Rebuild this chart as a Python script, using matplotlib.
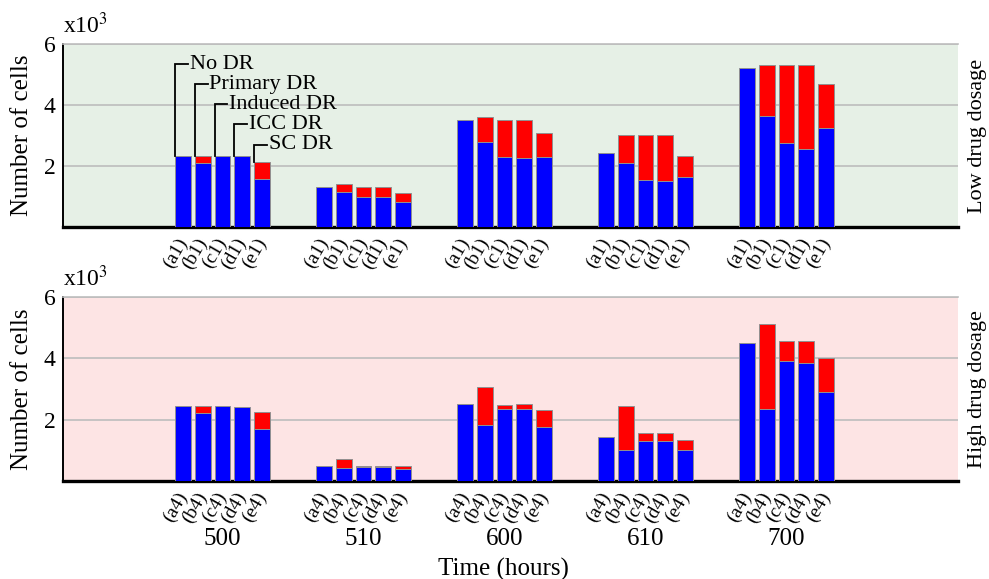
import numpy as np
import matplotlib
matplotlib.use("Agg")
import matplotlib.pyplot as plt
from matplotlib.transforms import blended_transform_factory

plt.rcParams['font.family'] = ['Liberation Serif', 'DejaVu Serif']
plt.rcParams['mathtext.fontset'] = 'stix'

# Time points (hours) and the five resistance models
times = ["500", "510", "600", "610", "700"]
models = ["No DR", "Primary DR", "Induced DR", "ICC DR", "SC DR"]
letters = ["a", "b", "c", "d", "e"]

# Cell counts in thousands: sensitive (blue) and total (blue + red resistant)
low_sensitive = [
    [2.34, 2.09, 2.34, 2.34, 1.58],
    [1.30, 1.14, 0.97, 0.97, 0.82],
    [3.52, 2.79, 2.28, 2.25, 2.31],
    [2.42, 2.09, 1.54, 1.50, 1.63],
    [5.20, 3.64, 2.74, 2.56, 3.25],
]
low_total = [
    [2.34, 2.32, 2.34, 2.34, 2.12],
    [1.30, 1.41, 1.30, 1.30, 1.11],
    [3.52, 3.62, 3.51, 3.52, 3.07],
    [2.42, 3.02, 3.02, 3.03, 2.33],
    [5.20, 5.32, 5.30, 5.30, 4.68],
]
high_sensitive = [
    [2.43, 2.21, 2.43, 2.42, 1.71],
    [0.50, 0.43, 0.46, 0.46, 0.38],
    [2.51, 1.83, 2.35, 2.35, 1.76],
    [1.42, 1.02, 1.31, 1.31, 1.00],
    [4.51, 2.35, 3.92, 3.84, 2.91],
]
high_total = [
    [2.43, 2.45, 2.43, 2.42, 2.25],
    [0.50, 0.72, 0.50, 0.50, 0.48],
    [2.51, 3.07, 2.49, 2.51, 2.31],
    [1.42, 2.44, 1.55, 1.57, 1.33],
    [4.51, 5.11, 4.56, 4.58, 4.00],
]

# Label heights for the model call-outs in the first group
callout_y = [5.33, 4.68, 4.03, 3.37, 2.69]

W, H = 989, 579
fig = plt.figure(figsize=(W / 100, H / 100), dpi=100)

step = 0.14
width = 0.113
xlim = (-1.133, 5.216)


def draw_panel(ax, sens, total, suffix, bg, side_label):
    sens = np.array(sens)
    total = np.array(total)
    res = total - sens
    ax.set_facecolor(bg)
    xs, labels = [], []
    for g in range(len(times)):
        for k in range(len(models)):
            x = g + (k - 2) * step
            ax.bar(x, sens[g, k], width=width, color="#0000ff",
                   edgecolor="#909090", linewidth=0.7, zorder=3)
            if res[g, k] > 0.005:
                ax.bar(x, res[g, k], bottom=sens[g, k], width=width,
                       color="#ff0000", edgecolor="#909090", linewidth=0.7,
                       zorder=3)
            xs.append(x)
            labels.append(f"({letters[k]}{suffix})")
    ax.set_xlim(*xlim)
    ax.set_ylim(0, 6)
    ax.set_yticks([2, 4, 6])
    ax.set_yticklabels(["2", "4", "6"], fontsize=17)
    ax.yaxis.grid(True, color="#bdbdbd", linewidth=1.2, zorder=0)
    ax.set_axisbelow(True)
    ax.set_xticks(xs)
    ax.set_xticklabels(labels, rotation=60, fontsize=14, ha="right",
                       va="center", rotation_mode="anchor")
    ax.tick_params(axis="both", length=0)
    ax.tick_params(axis="x", pad=9)
    ax.tick_params(axis="y", pad=5)
    ax.spines["right"].set_visible(False)
    ax.spines["top"].set_color("#bdbdbd")
    ax.spines["top"].set_linewidth(1.2)
    ax.spines["left"].set_color("black")
    ax.spines["left"].set_linewidth(1.4)
    ax.spines["bottom"].set_color("black")
    ax.spines["bottom"].set_linewidth(2.4)
    ax.set_ylabel("Number of cells", fontsize=18, labelpad=8)
    ax.text(0.0, 1.03, r"x10$^3$", transform=ax.transAxes, fontsize=17,
            ha="left", va="bottom")
    ax.text(1.022, 0.5, side_label, transform=ax.transAxes, rotation=90,
            fontsize=16, ha="center", va="center")


ax1 = fig.add_axes([62.7 / W, 1 - 227 / H, (958 - 62.7) / W, 183 / H])
ax2 = fig.add_axes([62.7 / W, 1 - 481 / H, (958 - 62.7) / W, 184 / H])

draw_panel(ax1, low_sensitive, low_total, "1", "#e6f0e6", "Low drug dosage")
draw_panel(ax2, high_sensitive, high_total, "4", "#fde4e4", "High drug dosage")

# Call-outs naming each model on the first group of the upper panel
for k, name in enumerate(models):
    left = 0 + (k - 2) * step - width / 2
    top = low_total[0][k]
    ax1.plot([left, left, left + 0.092], [top, callout_y[k], callout_y[k]],
             color="black", linewidth=1.3, zorder=4, solid_joinstyle="miter")
    ax1.text(left + 0.104, callout_y[k], name, fontsize=16, ha="left",
             va="center", zorder=5)

# Time point labels below the lower panel
tr = blended_transform_factory(ax2.transData, fig.transFigure)
for g, t in enumerate(times):
    ax2.text(g, 1 - 539 / H, t, transform=tr, fontsize=18, ha="center",
             va="center")

fig.text(503 / W, 1 - 569 / H, "Time (hours)", fontsize=18, ha="center",
         va="center")

fig.savefig("out.png", dpi=100)
